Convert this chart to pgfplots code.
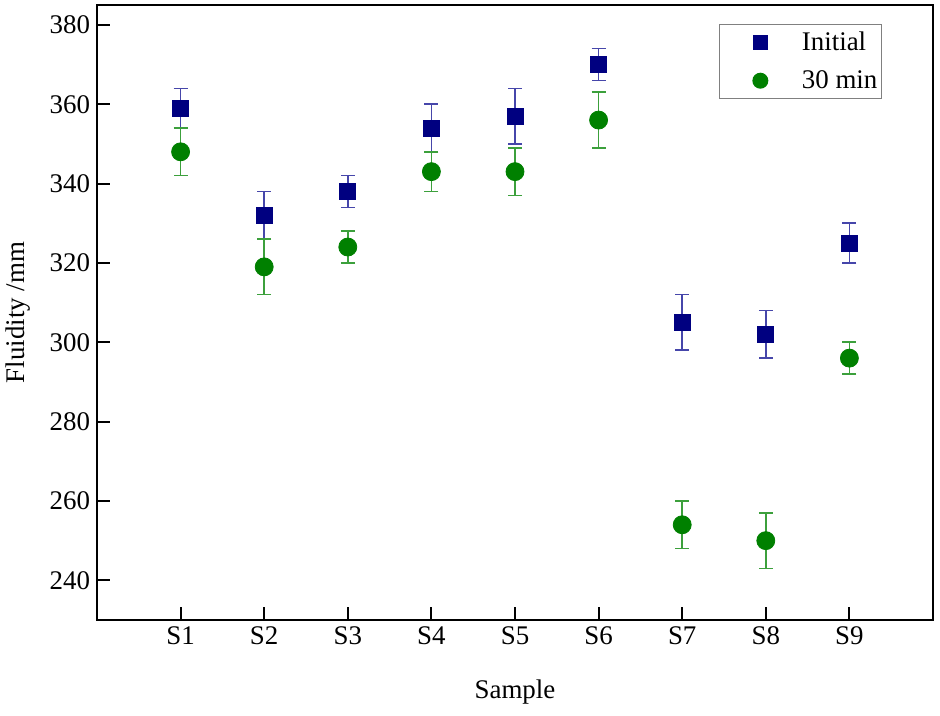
\documentclass[border=0pt]{standalone}
\usepackage{fontspec}
\setmainfont{Liberation Serif}
\usepackage{pgfplots}
\pgfplotsset{compat=1.18}
\definecolor{navy}{RGB}{0,0,128}
\definecolor{dgreen}{RGB}{0,128,0}
\definecolor{navybar}{RGB}{70,70,170}
\definecolor{greenbar}{RGB}{60,160,60}

\begin{document}
\begin{tikzpicture}
\begin{axis}[
    name=ax,
    at={(0,0)}, anchor=south west,
    scale only axis,
    width=418bp, height=307.5bp,
    xmin=0, xmax=10,
    ymin=230, ymax=385,
    xtick={1,2,3,4,5,6,7,8,9},
    xticklabels={S1, S2, S3, S4, S5, S6, S7, S8, S9},
    ytick={240,260,280,300,320,340,360,380},
    tick align=inside,
    xtick pos=bottom, ytick pos=left,
    major tick length=6.5bp,
    axis line style={line width=1bp},
    tick style={black, line width=1bp},
    tick label style={font=\fontsize{13.5}{16}\selectfont},
    /pgf/number format/assume math mode=true,
    xlabel={Sample},
    ylabel={Fluidity /mm},
    label style={font=\fontsize{13.5}{16}\selectfont},
    xlabel style={at={(axis description cs:0.5,-0.117)}, anchor=center},
    ylabel style={at={(axis description cs:-0.0945,0.5)}, anchor=center},
    legend style={at={(axis description cs:0.939,0.969)}, anchor=north east,
        draw=gray, line width=0.6bp, font=\fontsize{13.5}{16}\selectfont,
        inner xsep=0bp, inner ysep=1.5bp, row sep=4.5bp},
    legend cell align=left,
    legend image code/.code={
        \draw[#1, every mark/.append style={scale=0.82}] plot coordinates {(20bp,0bp)};
        \path (0bp,0bp) (38.5bp,0bp);
    },
]

\addplot+[
    navy, only marks,
    mark=square*, mark size=4bp,
    mark options={fill=navy, draw=navy},
    error bars/.cd,
    y dir=both, y explicit,
    error bar style={navybar, line width=0.8bp},
    error mark options={rotate=90, navybar, mark size=3.5bp, line width=0.8bp},
    ]
    table[x=x, y=y, y error plus=ep, y error minus=em] {
    x  y    ep  em
    1  359  5   5
    2  332  6   6
    3  338  4   4
    4  354  6   6
    5  357  7   7
    6  370  4   4
    7  305  7   7
    8  302  6   6
    9  325  5   5
    };
\addlegendentry{Initial}

\addplot+[
    dgreen, only marks,
    mark=*, mark size=4.5bp,
    mark options={fill=dgreen, draw=dgreen},
    error bars/.cd,
    y dir=both, y explicit,
    error bar style={greenbar, line width=0.8bp},
    error mark options={rotate=90, greenbar, mark size=3.5bp, line width=0.8bp},
    ]
    table[x=x, y=y, y error plus=ep, y error minus=em] {
    x  y    ep  em
    1  348  6   6
    2  319  7   7
    3  324  4   4
    4  343  5   5
    5  343  6   6
    6  356  7   7
    7  254  6   6
    8  250  7   7
    9  296  4   4
    };
\addlegendentry{30 min}

\end{axis}
\pgfresetboundingbox
\path[use as bounding box] (-48.5bp,-48bp) rectangle (421.5bp,310bp);
\end{tikzpicture}
\end{document}
